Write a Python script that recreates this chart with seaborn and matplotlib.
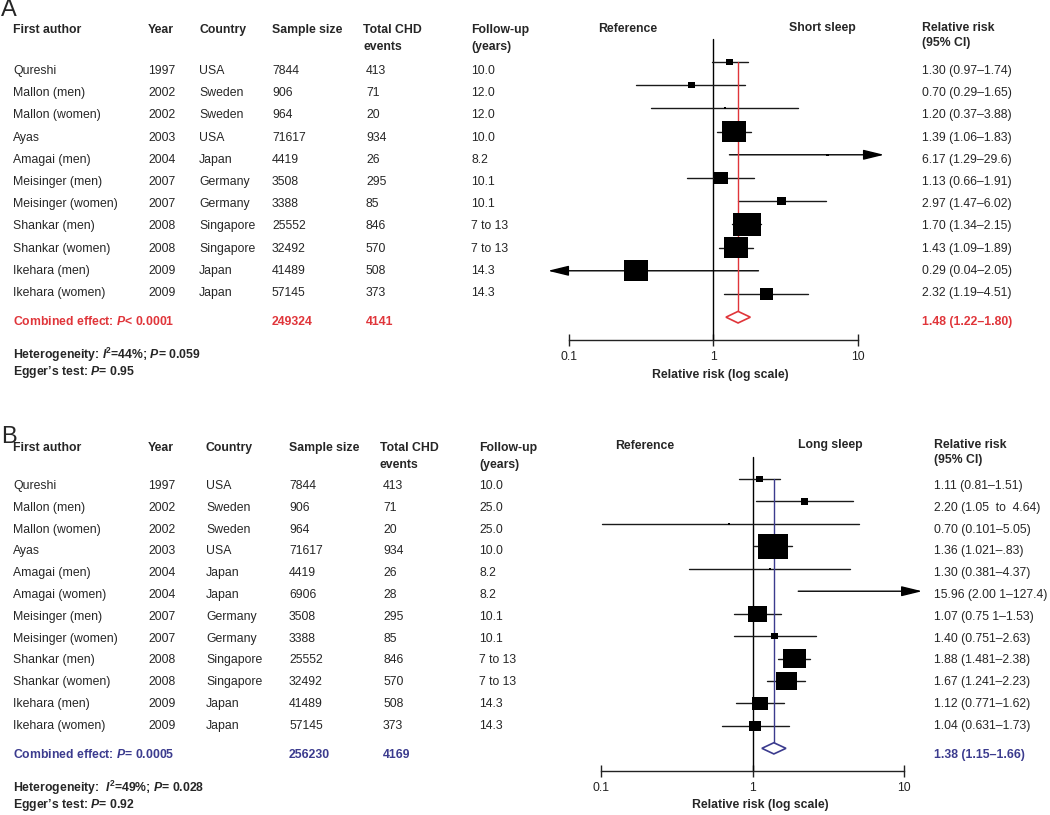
import numpy as np
import pandas as pd
import matplotlib.pyplot as plt
from matplotlib.ticker import NullLocator
import seaborn as sns

# ---------------- data: panel A (short sleep) ----------------
authors_a = ['Qureshi', 'Mallon (men)', 'Mallon (women)', 'Ayas', 'Amagai (men)',
             'Meisinger (men)', 'Meisinger (women)', 'Shankar (men)', 'Shankar (women)',
             'Ikehara (men)', 'Ikehara (women)']
years_a = ['1997', '2002', '2002', '2003', '2004', '2007', '2007', '2008', '2008', '2009', '2009']
countries_a = ['USA', 'Sweden', 'Sweden', 'USA', 'Japan', 'Germany', 'Germany',
               'Singapore', 'Singapore', 'Japan', 'Japan']
samples_a = ['7844', '906', '964', '71617', '4419', '3508', '3388', '25552', '32492', '41489', '57145']
events_a = ['413', '71', '20', '934', '26', '295', '85', '846', '570', '508', '373']
followup_a = ['10.0', '12.0', '12.0', '10.0', '8.2', '10.1', '10.1', '7 to 13', '7 to 13', '14.3', '14.3']
rr_a = [1.30, 0.70, 1.20, 1.39, 6.17, 1.13, 2.97, 1.70, 1.43, 0.29, 2.32]
lo_a = [0.97, 0.29, 0.37, 1.06, 1.29, 0.66, 1.47, 1.34, 1.09, 0.04, 1.19]
hi_a = [1.74, 1.65, 3.88, 1.83, 29.6, 1.91, 6.02, 2.15, 1.89, 2.05, 4.51]
weight_a = [1.6, 1.6, 0.2, 18.5, 0.2, 6.3, 2.6, 25.2, 18.5, 19.6, 5.7]
ci_text_a = ['1.30 (0.97–1.74)', '0.70 (0.29–1.65)', '1.20 (0.37–3.88)', '1.39 (1.06–1.83)',
             '6.17 (1.29–29.6)', '1.13 (0.66–1.91)', '2.97 (1.47–6.02)', '1.70 (1.34–2.15)',
             '1.43 (1.09–1.89)', '0.29 (0.04–2.05)', '2.32 (1.19–4.51)']
pooled_a = [1.48, 1.22, 1.80]
pooled_text_a = '1.48 (1.22–1.80)'
total_a = ['249324', '4141']

# ---------------- data: panel B (long sleep) ----------------
authors_b = ['Qureshi', 'Mallon (men)', 'Mallon (women)', 'Ayas', 'Amagai (men)', 'Amagai (women)',
             'Meisinger (men)', 'Meisinger (women)', 'Shankar (men)', 'Shankar (women)',
             'Ikehara (men)', 'Ikehara (women)']
years_b = ['1997', '2002', '2002', '2003', '2004', '2004', '2007', '2007', '2008', '2008', '2009', '2009']
countries_b = ['USA', 'Sweden', 'Sweden', 'USA', 'Japan', 'Japan', 'Germany', 'Germany',
               'Singapore', 'Singapore', 'Japan', 'Japan']
samples_b = ['7844', '906', '964', '71617', '4419', '6906', '3508', '3388', '25552', '32492', '41489', '57145']
events_b = ['413', '71', '20', '934', '26', '28', '295', '85', '846', '570', '508', '373']
followup_b = ['10.0', '25.0', '25.0', '10.0', '8.2', '8.2', '10.1', '10.1', '7 to 13', '7 to 13', '14.3', '14.3']
rr_b = [1.11, 2.20, 0.70, 1.36, 1.30, 15.96, 1.07, 1.40, 1.88, 1.67, 1.12, 1.04]
lo_b = [0.81, 1.05, 0.101, 1.021, 0.381, 2.001, 0.751, 0.751, 1.481, 1.241, 0.771, 0.631]
hi_b = [1.51, 4.64, 5.05, 1.83, 4.37, 127.4, 1.53, 2.63, 2.38, 2.23, 1.62, 1.73]
weight_b = [1.9, 1.9, 0.2, 30.6, 0.2, 0.2, 12.9, 1.9, 19.3, 15.7, 9.5, 5.4]
ci_text_b = ['1.11 (0.81–1.51)', '2.20 (1.05  to  4.64)', '0.70 (0.101–5.05)', '1.36 (1.021–.83)',
             '1.30 (0.381–4.37)', '15.96 (2.00 1–127.4)', '1.07 (0.75 1–1.53)', '1.40 (0.751–2.63)',
             '1.88 (1.481–2.38)', '1.67 (1.241–2.23)', '1.12 (0.771–1.62)', '1.04 (0.631–1.73)']
pooled_b = [1.38, 1.15, 1.66]
pooled_text_b = '1.38 (1.15–1.66)'
total_b = ['256230', '4169']

RED = '#e0353a'
NAVY = '#3b3b8e'

sns.set_theme(style='white')
plt.rcParams['font.family'] = ['Liberation Sans', 'DejaVu Sans']
plt.rcParams['mathtext.fontset'] = 'custom'
plt.rcParams['mathtext.rm'] = 'Liberation Sans'
plt.rcParams['mathtext.it'] = 'Liberation Sans:italic'
plt.rcParams['mathtext.bf'] = 'Liberation Sans:bold'
plt.rcParams['mathtext.bfit'] = 'Liberation Sans:italic:bold'

W, H = 1050, 815
FS = 8.8
fig = plt.figure(figsize=(W / 100, H / 100), dpi=100)

# rectangle marker (slightly wider than tall, as in the figure)
rect = [(-1.18, -1), (1.18, -1), (1.18, 1), (-1.18, 1), (-1.18, -1)]


def put(x, y, s, **kw):
    kw.setdefault('fontsize', FS)
    fig.text(x / W, 1 - y / H, s, va='center', ha='left', **kw)


def forest(ax, rr, lo, hi, w, pooled, colour, clip, area, xlim, ylim):
    n = len(rr)
    df = pd.DataFrame({'rr': rr, 'lo': lo, 'hi': hi, 'w': w, 'row': np.arange(n)})
    ax.set_xscale('log')

    # reference line at RR = 1
    ax.plot([1, 1], [-1, n + 1], color='black', lw=1, zorder=1)

    # confidence intervals, with arrows where they run off the scale
    arrow = dict(arrowstyle='-|>,head_length=0.9,head_width=0.22', color='black',
                 lw=1, mutation_scale=14, shrinkA=0, shrinkB=0)
    for _, r in df.iterrows():
        if r.hi > clip[1]:
            ax.annotate('', xy=(clip[1], r.row), xytext=(r.lo, r.row), arrowprops=arrow, zorder=2)
        elif r.lo < clip[0]:
            ax.annotate('', xy=(clip[0], r.row), xytext=(r.hi, r.row), arrowprops=arrow, zorder=2)
        else:
            ax.plot([r.lo, r.hi], [r.row, r.row], color='#1a1a1a', lw=1, zorder=2)

    inside = df[(df.rr > clip[0]) & (df.rr < clip[1])]
    wmin, wmax = inside.w.min(), inside.w.max()
    sns.scatterplot(data=inside, x='rr', y='row', size='w', sizes=(area * wmin, area * wmax),
                    size_norm=(wmin, wmax), marker=rect, color='black', linewidth=0,
                    legend=False, ax=ax, zorder=4)

    # pooled estimate: line and diamond
    p, plo, phi = pooled
    h = 0.25
    ax.plot([p, p], [0, n - h], color=colour, lw=1, zorder=3)
    ax.fill([plo, p, phi, p], [n, n - h, n, n + h], facecolor='white', edgecolor=colour,
            lw=1.2, zorder=5)

    ax.set_xlim(*xlim)
    ax.set_ylim(*ylim)
    for s in ['top', 'left', 'right']:
        ax.spines[s].set_visible(False)
    ax.spines['bottom'].set_position(('data', n + 1))
    ax.spines['bottom'].set_bounds(0.1, 10)
    ax.spines['bottom'].set_color('#222222')
    ax.spines['bottom'].set_linewidth(1)
    ax.set_xticks([0.1, 1, 10], ['0.1', '1', '10'])
    ax.xaxis.set_minor_locator(NullLocator())
    ax.tick_params(axis='x', direction='inout', length=8, width=1, pad=4,
                   labelsize=FS, bottom=True, colors='#222222')
    ax.set_yticks([])
    ax.set_xlabel('Relative risk (log scale)', fontsize=FS, fontweight='bold', labelpad=4)
    ax.set_ylabel('')
    ax.set_facecolor('none')


def table(y_head, y_rows, y_comb, y_het, cols, rows_data, ci_x, ci_text, pooled_text,
          totals, colour, p_text, het_text, egger_text, y_ref, ref_x, side_x, side_text):
    x_auth, x_year, x_ctry, x_samp, x_evt, x_fu = cols
    b = dict(fontweight='bold')
    put(x_auth, y_head, 'First author', **b)
    put(x_year, y_head, 'Year', **b)
    put(x_ctry, y_head, 'Country', **b)
    put(x_samp, y_head, 'Sample size', **b)
    put(x_evt, y_head, 'Total CHD', **b)
    put(x_evt, y_head + 17, 'events', **b)
    put(x_fu, y_head, 'Follow-up', **b)
    put(x_fu, y_head + 17, '(years)', **b)
    put(ref_x, y_ref, 'Reference', **b)
    put(side_x, y_ref - 1, side_text, **b)
    put(ci_x, y_ref - 1, 'Relative risk', **b)
    put(ci_x, y_ref + 14, '(95% CI)', **b)
    authors, years, countries, samples, events, followup = rows_data
    for i in range(len(authors)):
        y = y_rows[i]
        put(x_auth, y, authors[i])
        put(x_year, y, years[i])
        put(x_ctry, y, countries[i])
        put(x_samp, y, samples[i])
        put(x_evt + 3, y, events[i])
        put(x_fu, y, followup[i])
        put(ci_x, y, ci_text[i])
    put(x_auth, y_comb, p_text, color=colour, **b)
    put(x_samp, y_comb, totals[0], color=colour, **b)
    put(x_evt + 3, y_comb, totals[1], color=colour, **b)
    put(ci_x, y_comb, pooled_text, color=colour, **b)
    put(x_auth, y_het, het_text, **b)
    put(x_auth, y_het + 17, egger_text, **b)


# ---------------- panel A ----------------
put(1, 10, 'A', fontsize=17)
ax_a = fig.add_axes([540 / W, 1 - 400 / H, 360 / W, 380 / H])
forest(ax_a, rr_a, lo_a, hi_a, weight_a, pooled_a, RED, clip=(0.0713, 15.2), area=16.1,
       xlim=(0.0628, 19.6), ylim=(14.57, -1.81))
rows_a = [71 + 22.2 * i for i in range(len(authors_a))]
table(30, rows_a, 322, 355, (13, 148, 199, 272, 363, 471),
      (authors_a, years_a, countries_a, samples_a, events_a, followup_a),
      922, ci_text_a, pooled_text_a, total_a, RED,
      r'Combined effect: $\mathbfit{P}$< 0.0001',
      r'Heterogeneity: $\mathbfit{I}^{\mathbf{2}}$=44%; $\mathbfit{P}$= 0.059',
      r'Egger’s test: $\mathbfit{P}$= 0.95',
      29, 598, 789, 'Short sleep')

# ---------------- panel B ----------------
put(1, 437, 'B', fontsize=17)
ax_b = fig.add_axes([575 / W, 0, 370 / W, 375 / H])
forest(ax_b, rr_b, lo_b, hi_b, weight_b, pooled_b, NAVY, clip=(0.07, 13.2), area=14.5,
       xlim=(0.0668, 18.7), ylim=(14.97, -1.737))
rows_b = [486 + 21.8 * i for i in range(len(authors_b))]
table(448, rows_b, 755, 788, (13, 148, 206, 289, 380, 479),
      (authors_b, years_b, countries_b, samples_b, events_b, followup_b),
      934, ci_text_b, pooled_text_b, total_b, NAVY,
      r'Combined effect: $\mathbfit{P}$= 0.0005',
      r'Heterogeneity:  $\mathbfit{I}^{\mathbf{2}}$=49%; $\mathbfit{P}$= 0.028',
      r'Egger’s test: $\mathbfit{P}$= 0.92',
      446, 615, 798, 'Long sleep')

fig.savefig('out.png', dpi=100)
